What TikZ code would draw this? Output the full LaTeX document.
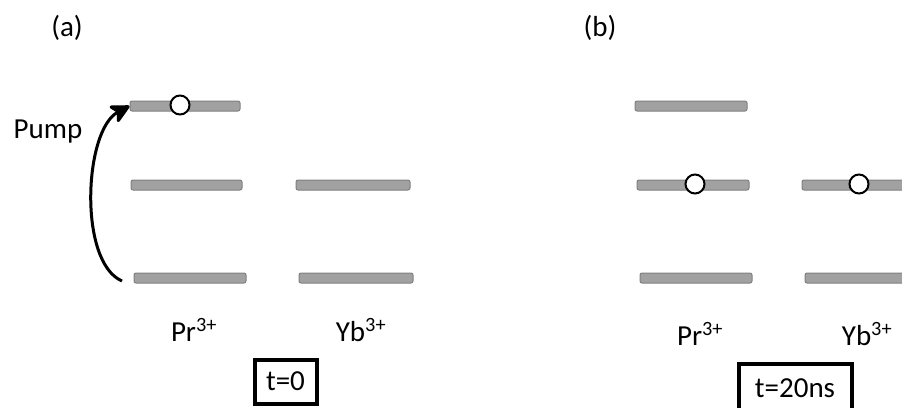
\documentclass[tikz,border=0pt]{standalone}
\usepackage{fontspec}
\setmainfont{Carlito}
\usetikzlibrary{arrows.meta}
\tikzset{
  level/.style={draw=black!50, fill=black!37, line width=1pt, rounded corners=2pt, minimum height=10pt, inner sep=0pt},
  elec/.style={circle, draw=black, fill=white, line width=2pt, minimum size=19pt, inner sep=0pt},
  lbl/.style={font=\fontsize{29}{34}\selectfont, inner sep=0pt, anchor=base},
  tbox/.style={draw=black, line width=4pt, font=\fontsize{29}{34}\selectfont, inner sep=0pt},
}
\begin{document}
\begin{tikzpicture}[x=1pt,y=-1pt]
\useasboundingbox (0,0) rectangle (902,407);
\clip (0,0) rectangle (902,407);
% (a)
\node[lbl] (la) at (67,36) {(a)};
\node[level, minimum width=110pt] (atop) at (185,106) {};
\node[level, minimum width=111pt] (amid) at (186.5,185) {};
\node[level, minimum width=112pt] (abot) at (190,278) {};
\node[level, minimum width=114pt] (aybmid) at (353,185) {};
\node[level, minimum width=114pt] (aybbot) at (356,278) {};
\node[elec] (ae) at (180,105) {};
\coordinate (pstart) at (122,281);
\draw[line width=3pt, -{Stealth[length=22pt,width=22pt,inset=6pt,round]}] (pstart) .. controls (78,262) and (84,130) .. (atop.west);
\node[lbl] (pump) at (48,138) {Pump};
\node[lbl] (apr) at (194,341) {Pr\textsuperscript{3+}};
\node[lbl] (ayb) at (361,341) {Yb\textsuperscript{3+}};
\node[tbox, minimum width=62pt, minimum height=44pt] (ta) at (285.5,381.5) {t=0};
% (b)
\node[lbl] (lb) at (600,36) {(b)};
\node[level, minimum width=112pt] (btop) at (691,106) {};
\node[level, minimum width=112pt] (bmid) at (693,185) {};
\node[level, minimum width=112pt] (bbot) at (696,278) {};
\node[level, minimum width=114pt] (bybmid) at (859,185) {};
\node[level, minimum width=114pt] (bybbot) at (862,278) {};
\node[elec] (be1) at (695,184) {};
\node[elec] (be2) at (859,184) {};
\node[lbl] (bpr) at (700,345) {Pr\textsuperscript{3+}};
\node[lbl] (byb) at (867,345) {Yb\textsuperscript{3+}};
\node[tbox, minimum width=113pt, minimum height=48pt] (tb) at (795,388) {t=20ns};
\end{tikzpicture}
\end{document}
